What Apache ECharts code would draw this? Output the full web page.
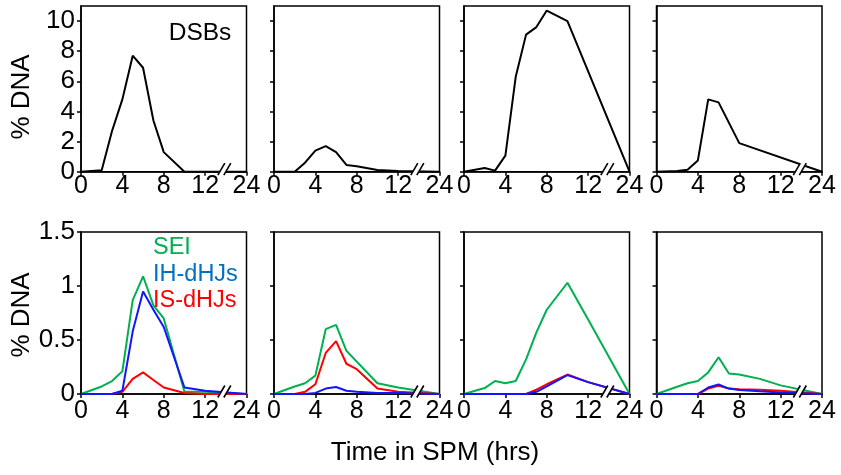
<!DOCTYPE html>
<html>
<head>
<meta charset="utf-8">
<script src="https://cdn.jsdelivr.net/npm/echarts@6/dist/echarts.min.js"></script>
<style>html,body{margin:0;padding:0;background:#fff}#c{width:841px;height:475px}</style>
</head>
<body>
<div id="c"></div>
<script>
// ---- data (hours in SPM, % DNA) ----
const xTickHours = [0, 4, 8, 12, 24];
const xTickLabels = ['0', '4', '8', '12', '24'];
const dsbTicks = [0, 2, 4, 6, 8, 10];
const jmTicks = [0, 0.5, 1, 1.5];

// Top row: DSBs, four panels
const dsbHours1 = [0, 2, 3, 4, 5, 6, 7, 8, 10, 12, 24];
const dsbVals1  = [0, 0.1, 2.7, 4.8, 7.7, 6.9, 3.4, 1.3, 0, 0, 0];
const dsbHours2 = [0, 2, 3, 4, 5, 6, 7, 8, 10, 12, 24];
const dsbVals2  = [0, 0, 0.6, 1.4, 1.7, 1.3, 0.45, 0.36, 0.12, 0.05, 0];
const dsbHours3 = [0, 2, 3, 4, 5, 6, 7, 8, 10, 24];
const dsbVals3  = [0, 0.25, 0.07, 1.07, 6.3, 9.1, 9.6, 10.7, 10.0, 0];
const dsbHours4 = [0, 2, 3, 4, 5, 6, 8, 24];
const dsbVals4  = [0, 0.05, 0.13, 0.75, 4.8, 4.6, 1.9, 0];

// Bottom row: SEI, IH-dHJs, IS-dHJs
const jmHours = [0, 2, 3, 4, 5, 6, 7, 8, 10, 12, 24];
const sei1 = [0, 0.07, 0.12, 0.21, 0.87, 1.09, 0.82, 0.70, 0.02, 0.02, 0];
const ih1  = [0, 0, 0, 0.03, 0.58, 0.95, 0.78, 0.62, 0.06, 0.03, 0];
const is1  = [0, 0, 0, 0.02, 0.14, 0.20, 0.13, 0.06, 0.01, 0, 0];
const sei2 = [0, 0.07, 0.10, 0.17, 0.60, 0.64, 0.40, 0.30, 0.10, 0.06, 0];
const ih2  = [0, 0, 0, 0.01, 0.05, 0.065, 0.03, 0.02, 0.01, 0.01, 0];
const is2  = [0, 0, 0.02, 0.09, 0.38, 0.49, 0.28, 0.23, 0.05, 0.02, 0];
const sei3 = [0, 0.055, 0.12, 0.10, 0.12, 0.32, 0.57, 0.78, 1.03, 0.69, 0];
const ih3  = [0, 0, 0, 0, 0, 0, 0.02, 0.07, 0.175, 0.11, 0];
const is3  = [0, 0, 0, 0, 0, 0, 0.04, 0.09, 0.18, 0.11, 0];
const sei4 = [0, 0.067, 0.10, 0.12, 0.20, 0.34, 0.19, 0.18, 0.14, 0.08, 0];
const ih4  = [0, 0, 0, 0, 0.06, 0.088, 0.05, 0.036, 0.025, 0.015, 0];
const is4  = [0, 0, 0, 0, 0.05, 0.075, 0.05, 0.045, 0.04, 0.03, 0];

// ---- broken time axis: 12 -> 24 h compressed into one tick interval ----
function pos(h) { return h <= 12 ? h : 12 + (h - 12) / 3; }
const breakHour = 18;
function pairs(hours, vals) { return hours.map((h, i) => [pos(h), vals[i]]); }

const FONT = 'Arial, "Liberation Sans", sans-serif';
const colLeft = [81, 274, 464, 656.5];
const panelW = 165.5;
const rows = [{ top: 6, height: 165.7, xMargin: 2 }, { top: 232, height: 162, xMargin: 5 }];

const grids = [], xAxes = [], yAxes = [], series = [];
const tickPos = xTickHours.map(pos);

for (let r = 0; r < 2; r++) {
  for (let c = 0; c < 4; c++) {
    const gi = r * 4 + c;
    grids.push({ left: colLeft[c], top: rows[r].top, width: panelW, height: rows[r].height,
      show: true, borderColor: '#000', borderWidth: 1.5, backgroundColor: 'transparent', containLabel: false });
    xAxes.push({ gridIndex: gi, type: 'value', min: 0, max: pos(24), interval: 4,
      axisLine: { show: true, onZero: false, lineStyle: { color: '#000', width: 1.5 } },
      axisTick: { show: true, inside: false, length: 4, lineStyle: { color: '#000', width: 1.5 } },
      splitLine: { show: false },
      axisLabel: { show: true, margin: rows[r].xMargin, color: '#000', fontSize: 25, fontFamily: FONT,
        formatter: v => { const k = tickPos.indexOf(v); return k >= 0 ? xTickLabels[k] : ''; } } });
    const ticks = r === 0 ? dsbTicks : jmTicks;
    yAxes.push({ gridIndex: gi, type: 'value', min: 0, max: r === 0 ? 11 : 1.5,
      axisLine: { show: true, onZero: false, lineStyle: { color: '#000', width: 1.5 } },
      axisTick: { show: true, length: 4, customValues: ticks, lineStyle: { color: '#000', width: 1.5 } },
      splitLine: { show: false },
      axisLabel: { show: c === 0, customValues: ticks, margin: 6, color: '#000', fontSize: 26, fontFamily: FONT } });
  }
}

const lineBase = { type: 'line', showSymbol: false, symbol: 'none', animation: false, silent: true };
const dsbSets = [[dsbHours1, dsbVals1], [dsbHours2, dsbVals2], [dsbHours3, dsbVals3], [dsbHours4, dsbVals4]];
dsbSets.forEach((s, c) => {
  series.push(Object.assign({}, lineBase, { name: 'DSBs', xAxisIndex: c, yAxisIndex: c,
    data: pairs(s[0], s[1]), lineStyle: { color: '#000', width: 2 } }));
});
const jmSets = [[sei1, is1, ih1], [sei2, is2, ih2], [sei3, is3, ih3], [sei4, is4, ih4]];
const jmColors = ['#00b050', '#ff0000', '#1414ff'];
const jmNames = ['SEI', 'IS-dHJs', 'IH-dHJs'];
jmSets.forEach((s, c) => {
  s.forEach((vals, k) => {
    series.push(Object.assign({}, lineBase, { name: jmNames[k], xAxisIndex: 4 + c, yAxisIndex: 4 + c,
      data: pairs(jmHours, vals), lineStyle: { color: jmColors[k], width: 2 } }));
  });
});

const chart = echarts.init(document.getElementById('c'), null, { renderer: 'canvas' });
chart.setOption({ animation: false, backgroundColor: '#fff', grid: grids, xAxis: xAxes, yAxis: yAxes, series: series });

// ---- texts and axis-break marks ----
const graphics = [];
const txt = (x, y, s, color, size, extra) => Object.assign({ type: 'text', z: 100, x: x, y: y,
  style: { text: s, fill: color, font: size + 'px ' + FONT, textAlign: 'center', textVerticalAlign: 'middle' } }, extra || {});
graphics.push(txt(200, 33, 'DSBs', '#000', 24.5));
graphics.push({ type: 'text', z: 100, x: 153, y: 248, style: { text: 'SEI', fill: '#00b050', font: '23.5px ' + FONT, textAlign: 'left', textVerticalAlign: 'middle' } });
graphics.push({ type: 'text', z: 100, x: 153, y: 275, style: { text: 'IH-dHJs', fill: '#0070c0', font: '23.5px ' + FONT, textAlign: 'left', textVerticalAlign: 'middle' } });
graphics.push({ type: 'text', z: 100, x: 153, y: 301, style: { text: 'IS-dHJs', fill: '#ff0000', font: '23.5px ' + FONT, textAlign: 'left', textVerticalAlign: 'middle' } });
graphics.push(txt(22, 97, '% DNA', '#000', 26, { rotation: Math.PI / 2 }));
graphics.push(txt(22, 315, '% DNA', '#000', 26, { rotation: Math.PI / 2 }));
graphics.push(txt(435, 453, 'Time in SPM (hrs)', '#000', 26));

for (let gi = 0; gi < 8; gi++) {
  const p = chart.convertToPixel({ gridIndex: gi }, [pos(breakHour), 0]);
  const cx = p[0], cy = p[1];
  graphics.push({ type: 'polygon', z: 110, shape: { points: [[cx - 9, cy + 4], [cx - 1, cy - 9], [cx + 6, cy - 9], [cx - 2, cy + 4]] },
    style: { fill: '#fff', stroke: null } });
  graphics.push({ type: 'line', z: 111, shape: { x1: cx - 8, y1: cy + 3.5, x2: cx - 1, y2: cy - 8.5 }, style: { stroke: '#000', lineWidth: 1.6 } });
  graphics.push({ type: 'line', z: 111, shape: { x1: cx - 2, y1: cy + 3.5, x2: cx + 5, y2: cy - 8.5 }, style: { stroke: '#000', lineWidth: 1.6 } });
}
chart.setOption({ graphic: graphics });
</script>
</body>
</html>
